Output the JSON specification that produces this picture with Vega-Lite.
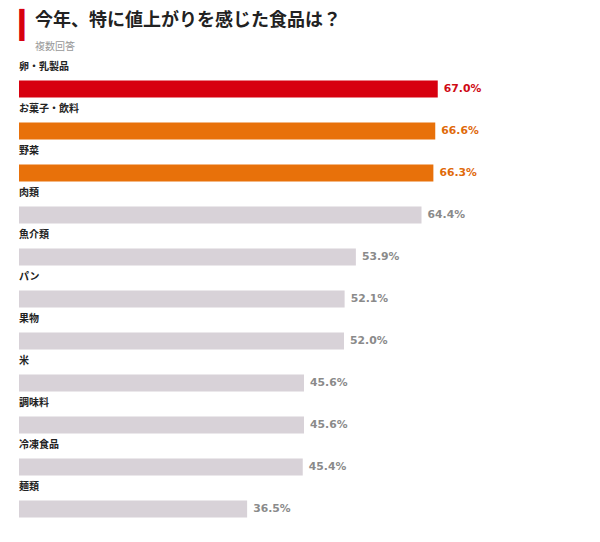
{
  "$schema": "https://vega.github.io/schema/vega-lite/v6.json",
  "width": 500,
  "height": 462,
  "autosize": {"type": "none"},
  "padding": {"left": 19, "top": 68, "right": 81, "bottom": 12},
  "background": "#ffffff",
  "title": {
    "text": "今年、特に値上がりを感じた食品は？",
    "subtitle": "複数回答",
    "anchor": "start",
    "frame": "group",
    "dx": 16,
    "offset": -41,
    "font": "Noto Sans CJK JP",
    "fontSize": 18,
    "fontWeight": "bold",
    "color": "#222222",
    "subtitleFont": "Noto Sans CJK JP",
    "subtitleFontSize": 10,
    "subtitleColor": "#999999",
    "subtitlePadding": 12
  },
  "config": {"view": {"stroke": null}},
  "data": {
    "values": [
      {"food": "卵・乳製品", "value": 0.670},
      {"food": "お菓子・飲料", "value": 0.666},
      {"food": "野菜", "value": 0.663},
      {"food": "肉類", "value": 0.644},
      {"food": "魚介類", "value": 0.539},
      {"food": "パン", "value": 0.521},
      {"food": "果物", "value": 0.520},
      {"food": "米", "value": 0.456},
      {"food": "調味料", "value": 0.456},
      {"food": "冷凍食品", "value": 0.454},
      {"food": "麺類", "value": 0.365}
    ]
  },
  "encoding": {
    "y": {
      "field": "food",
      "type": "nominal",
      "sort": null,
      "scale": {"paddingInner": 0, "paddingOuter": 0},
      "axis": {
        "labels": false,
        "ticks": false,
        "domain": false,
        "title": "▎",
        "titleFont": "DejaVu Sans",
        "titleFontSize": 27,
        "titleFontWeight": "normal",
        "titleColor": "#d7000f",
        "titleAngle": 0,
        "titleAlign": "left",
        "titleBaseline": "middle",
        "titleX": 0,
        "titleY": -43
      }
    }
  },
  "layer": [
    {
      "mark": {"type": "bar", "height": 17},
      "encoding": {
        "x": {"field": "value", "type": "quantitative", "scale": {"domain": [0, 0.8]}, "axis": null},
        "color": {
          "condition": [
            {"test": "datum.value >= 0.67", "value": "#d7000f"},
            {"test": "datum.value >= 0.66", "value": "#e8710a"}
          ],
          "value": "#d8d2d8"
        }
      }
    },
    {
      "mark": {"type": "text", "align": "left", "baseline": "middle", "dx": 6, "font": "DejaVu Sans", "fontSize": 10.8, "fontWeight": "bold"},
      "encoding": {
        "x": {"field": "value", "type": "quantitative"},
        "text": {"field": "value", "type": "quantitative", "format": ".1%"},
        "color": {
          "condition": [
            {"test": "datum.value >= 0.67", "value": "#cf0a14"},
            {"test": "datum.value >= 0.66", "value": "#e06a0a"}
          ],
          "value": "#8a8a8a"
        }
      }
    },
    {
      "mark": {"type": "text", "align": "left", "baseline": "middle", "dy": -22, "font": "Noto Sans CJK JP", "fontSize": 10, "fontWeight": "bold", "color": "#222222"},
      "encoding": {
        "x": {"datum": 0, "type": "quantitative"},
        "text": {"field": "food", "type": "nominal"}
      }
    }
  ]
}
